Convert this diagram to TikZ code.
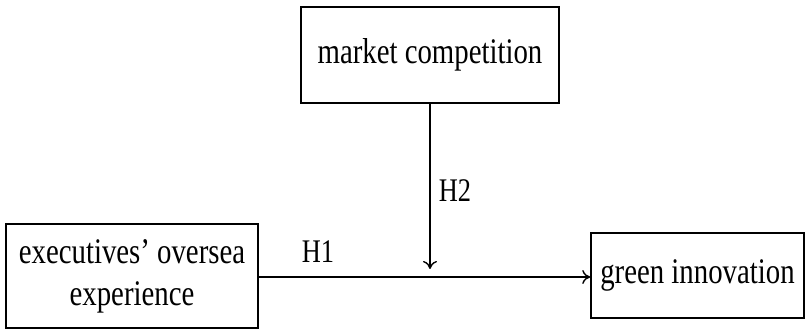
\documentclass[tikz,border=0pt]{standalone}
\usepackage{fontspec}
\setmainfont{Liberation Serif}[FakeStretch=0.8]
\usepackage{tikz}
\usetikzlibrary{arrows.meta}
\tikzset{
	varbox/.style={draw, line width=0.8pt, inner sep=0pt, align=center, font=\fontsize{18}{21}\selectfont},
	hyp/.style={font=\fontsize{16.5}{18}\selectfont},
	link/.style={line width=0.7pt, -{To[length=4pt,width=7pt]}}
}

\begin{document}
\begin{tikzpicture}[x=0.5pt,y=0.5pt]
		  \useasboundingbox (0,0) rectangle (806,330);
		  \node[varbox, minimum width=129pt, minimum height=48pt] (comp) at (430,275) {market competition};
		  \node[varbox, minimum width=126pt, minimum height=52pt] (exec) at (132,54) {executives’ oversea\\experience};
		  \node[varbox, minimum width=106.5pt, minimum height=42.5pt] (green) at (697.5,54.5) {green innovation};
                  \coordinate (mid) at (430,61);
                  \draw[link] (exec.east |- 0,53) -- (green.west |- 0,53);
                  \draw[link] (comp.south) -- (mid);
                  \node[hyp] (h1) at (318,78) {H1};
                  \node[hyp] (h2) at (455,139) {H2};
		\end{tikzpicture}
\end{document}
